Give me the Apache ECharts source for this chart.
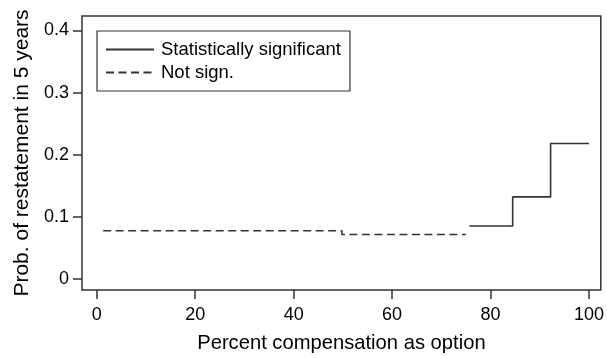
<!DOCTYPE html>
<html>
<head>
<meta charset="utf-8">
<script src="https://cdn.jsdelivr.net/npm/echarts@6/dist/echarts.min.js"></script>
<style>
html,body{margin:0;padding:0;background:#fff;}
#c{width:607px;height:358px;}
</style>
</head>
<body>
<div id="c"></div>
<script>
// Data
const sigName = 'Statistically significant';
const nsName = 'Not sign.';
const sigX = [75.7, 84.5, 92.2, 100];
const sigY = [0.085, 0.132, 0.218, 0.218];
const nsX = [1.3, 49.8, 75.0];
const nsY = [0.0775, 0.0715, 0.0715];
const xTicks = [0, 20, 40, 60, 80, 100];
const yTicks = [0, 0.1, 0.2, 0.3, 0.4];

const pairs = (xs, ys) => xs.map((x, i) => [x, ys[i]]);
const FONT = 'Liberation Sans, Arial, Helvetica, sans-serif';
const INK = '#333';

const chart = echarts.init(document.getElementById('c'), null, {renderer: 'canvas'});
chart.setOption({
  animation: false,
  backgroundColor: '#fff',
  grid: {
    left: 82, right: 5, top: 16, bottom: 65,
    show: true, borderColor: INK, borderWidth: 1.5, backgroundColor: 'transparent'
  },
  legend: {
    orient: 'vertical',
    left: 97, top: 31,
    borderColor: INK, borderWidth: 1.2,
    padding: [9, 9, 9, 8],
    itemWidth: 48, itemHeight: 14, itemGap: 4,
    itemStyle: {opacity: 0},
    textStyle: {fontFamily: FONT, fontSize: 18.5, color: '#000', padding: [0, 0, 0, 2]},
    data: [sigName, nsName]
  },
  xAxis: {
    type: 'value', min: -3, max: 102.4,
    name: 'Percent compensation as option', nameLocation: 'middle', nameGap: 43,
    nameTextStyle: {fontFamily: FONT, fontSize: 20.2, color: '#000'},
    axisLine: {show: false, onZero: false},
    axisTick: {show: true, inside: false, length: 9, lineStyle: {color: INK, width: 1.5}, customValues: xTicks},
    axisLabel: {fontFamily: FONT, fontSize: 18, color: '#000', margin: 16, customValues: xTicks},
    splitLine: {show: false}
  },
  yAxis: {
    type: 'value', min: -0.018, max: 0.4234,
    name: 'Prob. of restatement in 5 years', nameLocation: 'middle', nameGap: 42,
    nameTextStyle: {fontFamily: FONT, fontSize: 21, color: '#000'},
    axisLine: {show: false, onZero: false},
    axisTick: {show: true, inside: false, length: 9, lineStyle: {color: INK, width: 1.5}, customValues: yTicks},
    axisLabel: {fontFamily: FONT, fontSize: 18, color: '#000', margin: 13, customValues: yTicks},
    splitLine: {show: false}
  },
  series: [
    {
      name: sigName, type: 'line', step: 'end', symbol: 'none',
      data: pairs(sigX, sigY),
      lineStyle: {color: INK, width: 1.6, type: 'solid'},
      itemStyle: {color: INK, opacity: 0}
    },
    {
      name: nsName, type: 'line', step: 'end', symbol: 'none',
      data: pairs(nsX, nsY),
      lineStyle: {color: INK, width: 1.6, type: [8, 4.5]},
      itemStyle: {color: INK, opacity: 0}
    }
  ]
});
</script>
</body>
</html>
